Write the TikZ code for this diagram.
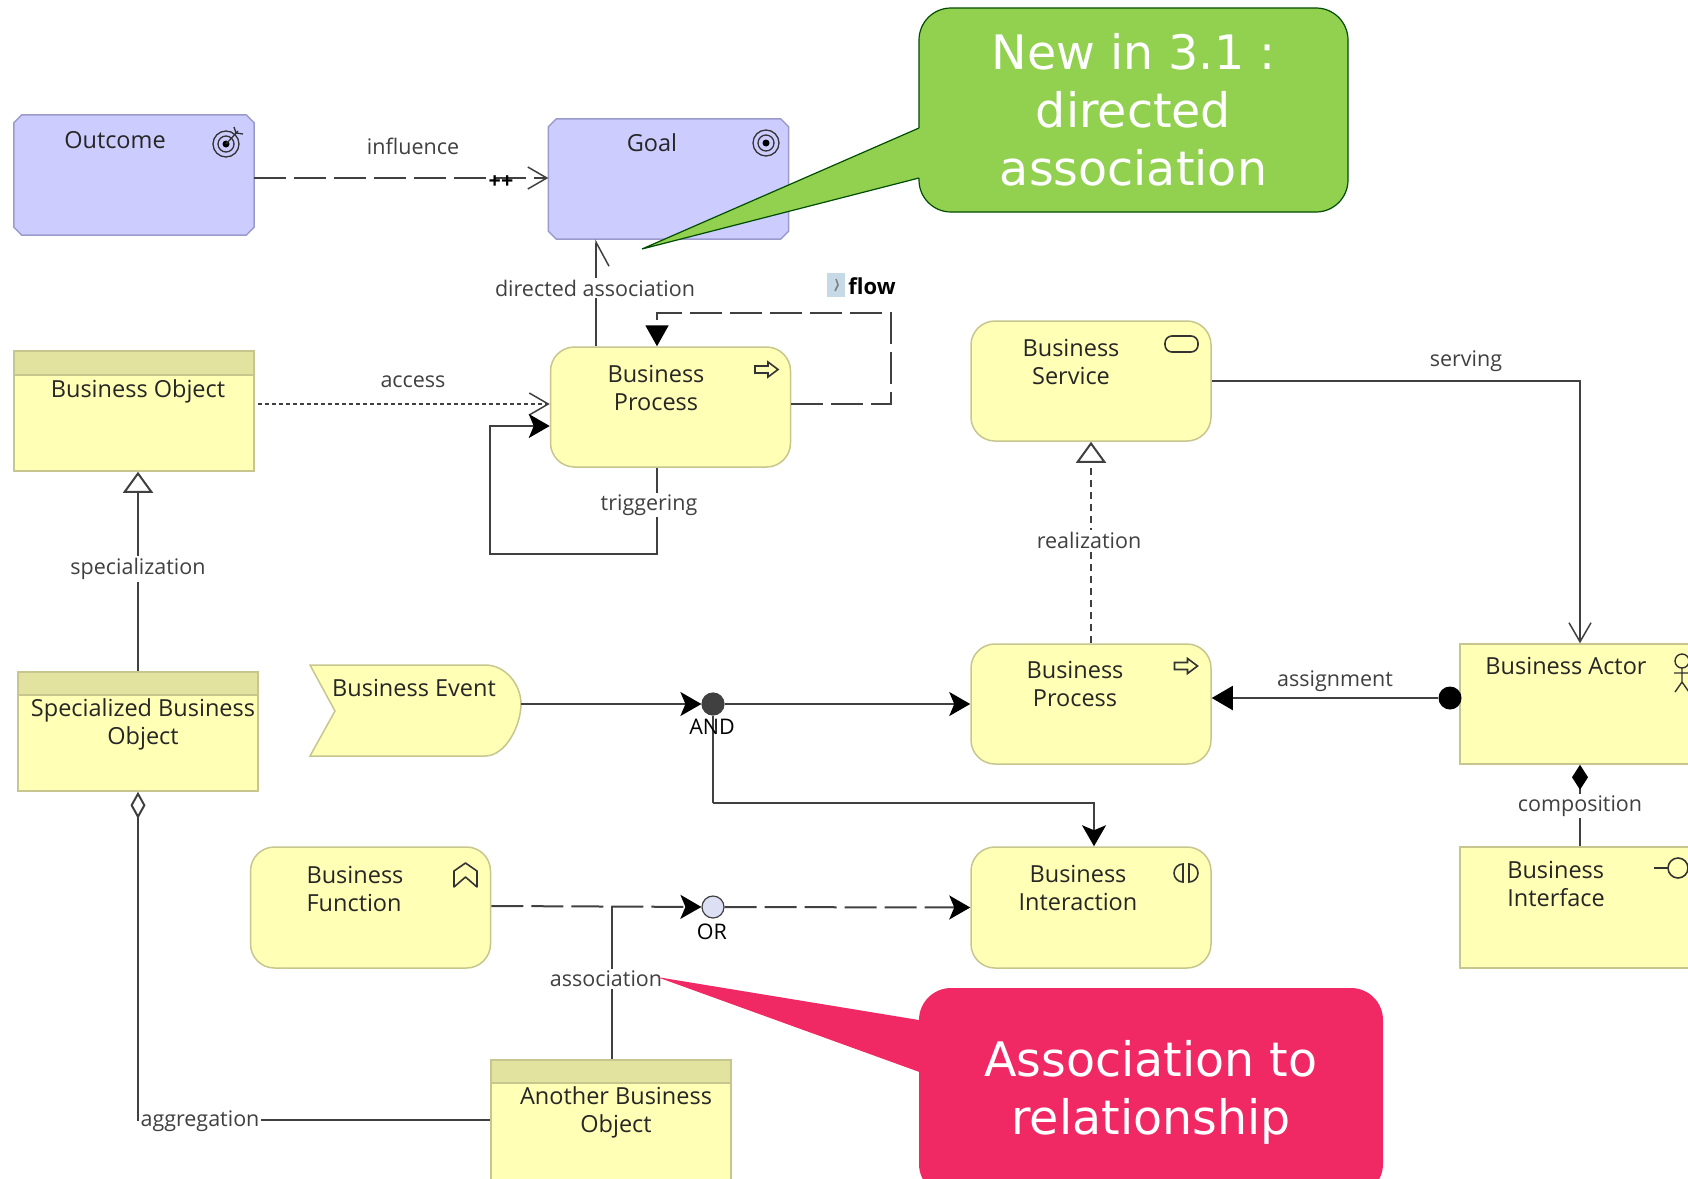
\documentclass[tikz,border=0pt]{standalone}
\usepackage{fontspec}
\setmainfont{Open Sans}
\newfontfamily\notefont{DejaVu Sans}
\usetikzlibrary{arrows.meta}
\definecolor{motivfill}{HTML}{CCCCFF}
\definecolor{motivline}{HTML}{9A9ACB}
\definecolor{busfill}{HTML}{FFFFB5}
\definecolor{busline}{HTML}{C6C68E}
\definecolor{bushead}{HTML}{E3E3A0}
\definecolor{relline}{HTML}{404040}
\definecolor{notegreen}{HTML}{92D050}
\definecolor{notepink}{HTML}{F02864}
\definecolor{iconblue}{HTML}{C5DAE6}
\definecolor{orfill}{HTML}{DDE0F5}
\newcommand{\boxfont}{\fontsize{23.5}{28}\selectfont}
\newcommand{\relfont}{\fontsize{21.5}{24}\selectfont}
\newcommand{\notesize}{\fontsize{47.5}{58}\selectfont}
\newcommand{\cutcorners}[1]{\draw[draw=motivline, line width=1.5pt, fill=motivfill] ([xshift=8pt]#1.north west) -- ([xshift=-8pt]#1.north east) -- ([yshift=-8pt]#1.north east) -- ([yshift=8pt]#1.south east) -- ([xshift=-8pt]#1.south east) -- ([xshift=8pt]#1.south west) -- ([yshift=8pt]#1.south west) -- ([yshift=-8pt]#1.north west) -- cycle;}
\tikzset{
  motivbox/.style={rectangle, minimum width=240pt, minimum height=120pt, inner sep=0pt},
  procbox/.style={draw=busline, line width=1.5pt, fill=busfill, rectangle, rounded corners=24pt, minimum width=240pt, minimum height=120pt, inner sep=0pt},
  objbox/.style={draw=busline, line width=1.5pt, fill=busfill, rectangle, minimum width=240pt, minimum height=120pt, inner sep=0pt},
  headbox/.style={draw=busline, line width=1.5pt, fill=bushead, rectangle, minimum width=240pt, minimum height=24pt, inner sep=0pt},
  boxtext/.style={font=\boxfont, text=black!85, align=center, inner sep=0pt},
  reltext/.style={font=\relfont, text=black!75, fill=white, inner sep=2pt},
  rel/.style={draw=relline, line width=2pt},
  longdash/.style={dash pattern=on 32pt off 8pt},
  shortdash/.style={dash pattern=on 7pt off 5pt},
  dotdash/.style={dash pattern=on 4pt off 3pt},
  opentip/.style={-{Straight Barb[length=19pt,width=22pt,line width=1.5pt]}},
  filltip/.style={-{Stealth[length=21pt,width=24pt,inset=5pt,black]}},
  icon/.style={draw=black!80, line width=1.6pt},
  junction/.style={draw=relline, line width=1.2pt, circle, minimum size=22pt, inner sep=0pt},
  note/.style={rectangle, rounded corners=32pt, align=center, text=white, font=\notefont\notesize, inner sep=0pt}
}
\begin{document}
\begin{tikzpicture}[x=1pt,y=-1pt]
  \useasboundingbox (0,0) rectangle (1688,1178);
  \clip (0,0) rectangle (1688,1178);

  % motivation
  \node (outcome) at (134,175) [motivbox] {};
  \node (goal) at (668.5,179) [motivbox] {};
  \cutcorners{outcome}
  \cutcorners{goal}
  \node (outcometext) at (115,140) [boxtext] {Outcome};
  \node (goaltext) at (652,143) [boxtext] {Goal};

  % objects
  \node (bobject) at (134,411) [objbox] {};
  \node (bobjecthead) at (134,363) [headbox] {};
  \node (bobjecttext) at (138,391) [boxtext] {Business Object};
  \node (specialized) at (138,731.5) [objbox, minimum height=119pt] {};
  \node (specializedhead) at (138,683.5) [headbox, minimum height=23pt] {};
  \node (specializedtext) at (143,724) [boxtext] {Specialized Business\\Object};
  \node (another) at (611,1180) [objbox, minimum height=240pt] {};
  \node (anotherhead) at (611,1071.5) [headbox, minimum height=23pt] {};
  \node (anothertext) at (616,1112) [boxtext] {Another Business\\Object};

  % processes and services
  \node (bprocess) at (670.5,407) [procbox] {};
  \node (bprocesstext) at (656,388) [boxtext] {Business\\Process};
  \node (service) at (1091,381) [procbox] {};
  \node (servicetext) at (1071,362) [boxtext] {Business\\Service};
  \node (bprocesstwo) at (1091,704) [procbox] {};
  \node (bprocesstwotext) at (1075,684) [boxtext] {Business\\Process};
  \node (interaction) at (1091,907.5) [procbox, minimum height=121pt] {};
  \node (interactiontext) at (1078,888) [boxtext] {Business\\Interaction};
  \node (function) at (370.5,907.5) [procbox, minimum height=121pt] {};
  \node (functiontext) at (355,889) [boxtext, align=left] {Business\\Function};
  \node (actor) at (1580,704) [objbox] {};
  \node (actortext) at (1566,666) [boxtext] {Business Actor};
  \node (interface) at (1580,907.5) [objbox, minimum height=121pt] {};
  \node (interfacetext) at (1556,884) [boxtext, align=left] {Business\\Interface};

  % event
  \draw[draw=busline, line width=1.5pt, fill=busfill] (310,665) -- (485,665)
    .. controls (506,665) and (521,685) .. (521,704)
    .. controls (521,725) and (506,756) .. (485,756) -- (310,756) -- (335,711) -- cycle;
  \coordinate (event) at (521,704);
  \node (eventtext) at (414,688) [boxtext] {Business Event};

  % junctions
  \node (andj) at (713,704) [junction, fill=black!75] {};
  \node (orj) at (713,907) [junction, fill=orfill] {};
  \node (assigndot) at (1450,698) [circle, fill=black, minimum size=23pt, inner sep=0pt] {};

  % bend points
  \coordinate (loopbend) at (490,554);
  \coordinate (flowbend) at (891,313);
  \coordinate (andbend) at (713,803);
  \coordinate (assocstart) at (612,906);

  \draw[rel, longdash, opentip] ([yshift=-3pt]outcome.east) -- ([yshift=1pt]goal.west);
  \draw[rel, dotdash, opentip] ([yshift=7pt,xshift=3pt]bobject.east) -- ([yshift=3pt]bprocess.west);
  \draw[rel, -{Straight Barb[right,length=24pt,width=26pt,line width=1.5pt]}] ([xshift=-74.5pt]bprocess.north) -- ([xshift=-72.5pt]goal.south);
  \draw[rel, filltip] ([xshift=-13.5pt]bprocess.south) |- (loopbend) |- ([yshift=-19pt]bprocess.west);
  \draw[rel, longdash, -{Triangle[length=21pt,width=23pt,black]}] ([yshift=3pt]bprocess.east) -| (flowbend) -| ([xshift=-13.5pt]bprocess.north);
  \draw[rel, opentip] (service.east) -| (actor.north);
  \draw[rel, shortdash, -{Triangle[open,length=21pt,width=30pt]}] (bprocesstwo.north) -- (service.south);
  \draw[rel, -{Triangle[open,length=21pt,width=30pt]}] (specialized.north) -- ([xshift=4pt]bobject.south);
  \draw[rel, {Diamond[open,length=27pt,width=15pt]}-] (specialized.south) |- ([yshift=60pt]another.west);
  \draw[rel, filltip] (event) -- (andj);
  \draw[rel, filltip] (andj) -- (bprocesstwo.west);
  \draw[rel] (andj) -- (andbend);
  \draw[rel, filltip] (andbend) -| ([xshift=3pt]interaction.north);
  \draw[rel, longdash, filltip] ([yshift=1.5pt]function.east) -- (orj);
  \draw[rel, longdash, filltip] (orj) -- (interaction.west);
  \draw[rel] (assocstart) -- ([xshift=1pt]another.north);
  \draw[rel, -{Triangle[length=21pt,width=24pt,black]}] (assigndot) -- ([yshift=6pt]bprocesstwo.east);
  \draw[rel, {Diamond[length=25pt,width=16pt,black]}-] (actor.south) -- (interface.north);

  % relation labels
  \node (influencetext) at (413,146) [reltext] {influence};
  \node (plustext) at (501,182) [font=\relfont\bfseries, inner sep=0pt] {++};
  \node (accesstext) at (413,382) [reltext] {access};
  \node (directedtext) at (595,288) [reltext] {directed association};
  \node (triggertext) at (649,505) [reltext] {triggering};
  \node (flowtext) at (872,286) [font=\fontsize{22}{24}\selectfont\bfseries, inner sep=0pt] {flow};
  \node (flowicon) at (836,285) [fill=iconblue, minimum width=18pt, minimum height=24pt, inner sep=0pt] {};
  \node (specializationtext) at (138,569) [reltext] {specialization};
  \node (aggregationtext) at (200,1121) [reltext] {aggregation};
  \node (andtext) at (712,727) [font=\relfont, inner sep=0pt] {AND};
  \node (ortext) at (712,932) [font=\relfont, inner sep=0pt] {OR};
  \node (associationtext) at (606,979) [reltext] {association};
  \node (realizationtext) at (1089,540) [reltext] {realization};
  \node (servingtext) at (1466,361) [reltext] {serving};
  \node (assignmenttext) at (1335,681) [reltext] {assignment};
  \node (compositiontext) at (1580,806) [reltext] {composition};

  % icons
  \draw[icon, draw=black!50] (836,279) -- (838,285) -- (835,291);
  \foreach \rad in {13,8} {
    \draw[icon, line width=1.3pt] (226,144) circle (\rad);
    \draw[icon, line width=1.3pt] (766,143) circle (\rad);
  }
  \fill (226,144) circle (3.5);
  \fill (766,143) circle (3.5);
  \draw[icon, line width=1.3pt] (226,144) -- (238,131) (234,127) -- (236,133) -- (243,134);
  \draw[icon] (755,366) -- (768,366) -- (768,362) -- (778,369.5) -- (768,377) -- (768,373) -- (755,373) -- cycle;
  \draw[icon, shift={(419.5,296.5)}] (755,366) -- (768,366) -- (768,362) -- (778,369.5) -- (768,377) -- (768,373) -- (755,373) -- cycle;
  \draw[icon, rounded corners=7pt] (1165,336) rectangle (1198,352);
  \draw[icon, line join=round] (454,887) -- (454,871) -- (465.5,863) -- (477,871) -- (477,887) -- (465.5,877) -- cycle;
  \draw[icon] (1183,882) arc (90:270:9) -- cycle;
  \draw[icon] (1189,882) arc (90:-90:9) -- cycle;
  \draw[icon, line width=1.4pt] (1682,661) circle (7) (1682,668) -- (1682,682) (1674,673) -- (1690,673)
    (1675,692) -- (1682,682) -- (1689,692);
  \draw[icon] (1654,868) -- (1668,868) (1678,868) circle (10);

  % notes
  \node (newnote) at (1133.5,110) [note, draw=green!30!black, line width=1.2pt, fill=notegreen, minimum width=429pt, minimum height=204pt] {New in 3.1 :\\directed\\association};
  \coordinate (newtip) at (642,249);
  \fill[notegreen] (919,128) -- (newtip) -- (919,178) -- (925,178) -- (925,128) -- cycle;
  \draw[draw=green!30!black, line width=1.2pt] (919,128) -- (newtip) -- (919,178);
  \node (assocnote) at (1151,1092) [note, fill=notepink, minimum width=464pt, minimum height=208pt] {Association to\\relationship};
  \coordinate (assoctip) at (657,977);
  \fill[notepink] (925,1021) -- (assoctip) -- (925,1074) -- cycle;
\end{tikzpicture}
\end{document}
